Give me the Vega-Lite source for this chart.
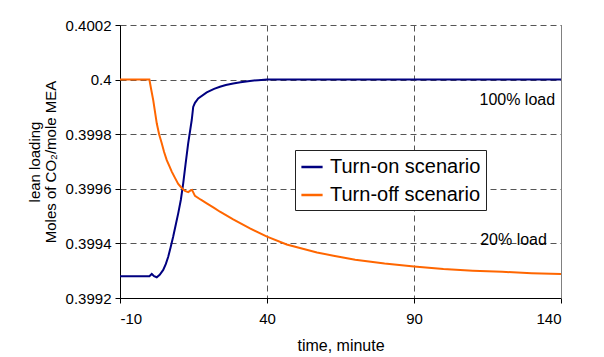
{
  "$schema": "https://vega.github.io/schema/vega-lite/v6.json",
  "width": 441,
  "height": 273,
  "autosize": "none",
  "padding": {"left": 120, "top": 25, "right": 43, "bottom": 59},
  "background": "white",
  "config": {
    "font": "Liberation Sans",
    "view": {"stroke": null},
    "axis": {
      "labelFont": "Liberation Sans",
      "titleFont": "Liberation Sans",
      "labelFontSize": 15,
      "titleFontSize": 16,
      "titleFontWeight": "normal",
      "labelColor": "black",
      "titleColor": "black",
      "domainColor": "black",
      "tickColor": "black",
      "tickSize": 5,
      "gridColor": "#555555",
      "gridDash": [6, 4],
      "gridWidth": 1
    },
    "legend": {
      "orient": "none",
      "legendX": 175,
      "legendY": 125,
      "fillColor": "white",
      "strokeColor": "#222222",
      "padding": 5,
      "symbolType": "stroke",
      "symbolSize": 450,
      "symbolStrokeWidth": 2.5,
      "labelFontSize": 20,
      "labelFont": "Liberation Sans",
      "labelColor": "black",
      "rowPadding": 6,
      "labelOffset": 6
    }
  },
  "datasets": {
    "curves": [
      {"time": -10, "loading": 0.39928, "scenario": "Turn-on scenario"},
      {"time": -5, "loading": 0.39928, "scenario": "Turn-on scenario"},
      {"time": 0, "loading": 0.39928, "scenario": "Turn-on scenario"},
      {"time": 0.8, "loading": 0.399288, "scenario": "Turn-on scenario"},
      {"time": 1.6, "loading": 0.39928, "scenario": "Turn-on scenario"},
      {"time": 2.5, "loading": 0.399276, "scenario": "Turn-on scenario"},
      {"time": 3.5, "loading": 0.399285, "scenario": "Turn-on scenario"},
      {"time": 4.7, "loading": 0.399303, "scenario": "Turn-on scenario"},
      {"time": 5.6, "loading": 0.399325, "scenario": "Turn-on scenario"},
      {"time": 6.4, "loading": 0.399351, "scenario": "Turn-on scenario"},
      {"time": 7.2, "loading": 0.399385, "scenario": "Turn-on scenario"},
      {"time": 8.1, "loading": 0.399425, "scenario": "Turn-on scenario"},
      {"time": 9.0, "loading": 0.39947, "scenario": "Turn-on scenario"},
      {"time": 9.8, "loading": 0.39951, "scenario": "Turn-on scenario"},
      {"time": 10.7, "loading": 0.39956, "scenario": "Turn-on scenario"},
      {"time": 11.5, "loading": 0.39962, "scenario": "Turn-on scenario"},
      {"time": 12.3, "loading": 0.39969, "scenario": "Turn-on scenario"},
      {"time": 13.2, "loading": 0.399767, "scenario": "Turn-on scenario"},
      {"time": 14.4, "loading": 0.399852, "scenario": "Turn-on scenario"},
      {"time": 14.9, "loading": 0.3999, "scenario": "Turn-on scenario"},
      {"time": 15.5, "loading": 0.399915, "scenario": "Turn-on scenario"},
      {"time": 16.6, "loading": 0.399931, "scenario": "Turn-on scenario"},
      {"time": 19.5, "loading": 0.399953, "scenario": "Turn-on scenario"},
      {"time": 22, "loading": 0.399966, "scenario": "Turn-on scenario"},
      {"time": 24, "loading": 0.399974, "scenario": "Turn-on scenario"},
      {"time": 26, "loading": 0.39998, "scenario": "Turn-on scenario"},
      {"time": 28.5, "loading": 0.399986, "scenario": "Turn-on scenario"},
      {"time": 31, "loading": 0.39999, "scenario": "Turn-on scenario"},
      {"time": 34.2, "loading": 0.399995, "scenario": "Turn-on scenario"},
      {"time": 37, "loading": 0.399998, "scenario": "Turn-on scenario"},
      {"time": 40, "loading": 0.4, "scenario": "Turn-on scenario"},
      {"time": 60, "loading": 0.4, "scenario": "Turn-on scenario"},
      {"time": 100, "loading": 0.4, "scenario": "Turn-on scenario"},
      {"time": 140, "loading": 0.4, "scenario": "Turn-on scenario"},
      {"time": -10, "loading": 0.4, "scenario": "Turn-off scenario"},
      {"time": 0, "loading": 0.4, "scenario": "Turn-off scenario"},
      {"time": 0.5, "loading": 0.39997, "scenario": "Turn-off scenario"},
      {"time": 1.3, "loading": 0.399925, "scenario": "Turn-off scenario"},
      {"time": 2.5, "loading": 0.39984, "scenario": "Turn-off scenario"},
      {"time": 3.3, "loading": 0.3998, "scenario": "Turn-off scenario"},
      {"time": 4.2, "loading": 0.399767, "scenario": "Turn-off scenario"},
      {"time": 5.0, "loading": 0.399735, "scenario": "Turn-off scenario"},
      {"time": 5.9, "loading": 0.399705, "scenario": "Turn-off scenario"},
      {"time": 6.8, "loading": 0.399683, "scenario": "Turn-off scenario"},
      {"time": 7.6, "loading": 0.399663, "scenario": "Turn-off scenario"},
      {"time": 8.7, "loading": 0.39964, "scenario": "Turn-off scenario"},
      {"time": 9.8, "loading": 0.399618, "scenario": "Turn-off scenario"},
      {"time": 11, "loading": 0.399603, "scenario": "Turn-off scenario"},
      {"time": 12.1, "loading": 0.399592, "scenario": "Turn-off scenario"},
      {"time": 13.2, "loading": 0.399588, "scenario": "Turn-off scenario"},
      {"time": 14.0, "loading": 0.399594, "scenario": "Turn-off scenario"},
      {"time": 14.5, "loading": 0.399596, "scenario": "Turn-off scenario"},
      {"time": 15.5, "loading": 0.399574, "scenario": "Turn-off scenario"},
      {"time": 17.5, "loading": 0.39956, "scenario": "Turn-off scenario"},
      {"time": 19.5, "loading": 0.399547, "scenario": "Turn-off scenario"},
      {"time": 22, "loading": 0.39953, "scenario": "Turn-off scenario"},
      {"time": 24, "loading": 0.399516, "scenario": "Turn-off scenario"},
      {"time": 28.5, "loading": 0.399488, "scenario": "Turn-off scenario"},
      {"time": 34.2, "loading": 0.399455, "scenario": "Turn-off scenario"},
      {"time": 40, "loading": 0.399425, "scenario": "Turn-off scenario"},
      {"time": 46.7, "loading": 0.399396, "scenario": "Turn-off scenario"},
      {"time": 51.2, "loading": 0.399383, "scenario": "Turn-off scenario"},
      {"time": 57, "loading": 0.399367, "scenario": "Turn-off scenario"},
      {"time": 62.6, "loading": 0.399355, "scenario": "Turn-off scenario"},
      {"time": 70, "loading": 0.39934, "scenario": "Turn-off scenario"},
      {"time": 80, "loading": 0.399326, "scenario": "Turn-off scenario"},
      {"time": 90, "loading": 0.399315, "scenario": "Turn-off scenario"},
      {"time": 100, "loading": 0.399306, "scenario": "Turn-off scenario"},
      {"time": 110, "loading": 0.3993, "scenario": "Turn-off scenario"},
      {"time": 120, "loading": 0.399296, "scenario": "Turn-off scenario"},
      {"time": 130, "loading": 0.399291, "scenario": "Turn-off scenario"},
      {"time": 140, "loading": 0.399288, "scenario": "Turn-off scenario"}
    ],
    "notes": [
      {"time": 138, "loading": 0.399925, "label": "100% load"},
      {"time": 135.2, "loading": 0.399412, "label": "20% load"}
    ]
  },
  "layer": [
    {
      "data": {"name": "curves"},
      "mark": {"type": "line", "strokeWidth": 2, "clip": true},
      "encoding": {
        "x": {
          "field": "time",
          "type": "quantitative",
          "scale": {"domain": [-10, 140], "nice": false, "zero": false},
          "axis": {
            "values": [-10, 40, 90, 140],
            "labelExpr": "'' + datum.value",
            "title": "time, minute",
            "labelPadding": 8,
            "titlePadding": 11,
            "grid": true
          }
        },
        "y": {
          "field": "loading",
          "type": "quantitative",
          "scale": {"domain": [0.3992, 0.4002], "nice": false, "zero": false},
          "axis": {
            "values": [0.3992, 0.3994, 0.3996, 0.3998, 0.4, 0.4002],
            "format": "~g",
            "title": ["lean loading", "Moles of CO₂/mole MEA"],
            "titleFontSize": 15,
            "titleLineHeight": 16,
            "labelPadding": 4,
            "titlePadding": 7,
            "grid": true
          }
        },
        "color": {
          "field": "scenario",
          "type": "nominal",
          "scale": {
            "domain": ["Turn-on scenario", "Turn-off scenario"],
            "range": ["#000080", "#FF6600"]
          },
          "legend": {"title": null}
        }
      }
    },
    {
      "data": {"name": "notes"},
      "mark": {"type": "text", "align": "right", "baseline": "middle", "fontSize": 16, "font": "Liberation Sans", "color": "black"},
      "encoding": {
        "x": {"field": "time", "type": "quantitative"},
        "y": {
          "field": "loading",
          "type": "quantitative",
          "axis": {
            "orient": "right",
            "labels": false,
            "ticks": false,
            "grid": false,
            "title": null,
            "domainColor": "#808080"
          }
        },
        "text": {"field": "label"}
      }
    }
  ],
  "resolve": {"axis": {"y": "independent"}}
}
